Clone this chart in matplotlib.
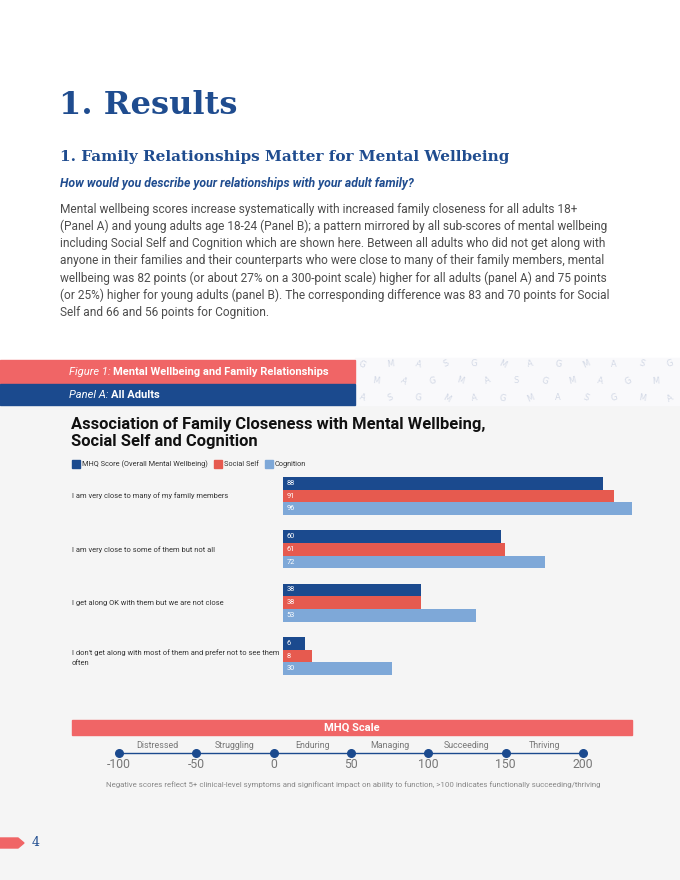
import matplotlib.pyplot as plt
from matplotlib.patches import Rectangle, Polygon
import numpy as np

# data
categories = [
    "I am very close to many of my family members",
    "I am very close to some of them but not all",
    "I get along OK with them but we are not close",
    "I don't get along with most of them and prefer not to see them\noften",
]
mhq_score = [88, 60, 38, 6]
social_self = [91, 61, 38, 8]
cognition = [96, 72, 53, 30]
series_names = ["MHQ Score (Overall Mental Wellbeing)", "Social Self", "Cognition"]

scale_ticks = [-100, -50, 0, 50, 100, 150, 200]
scale_bands = ["Distressed", "Struggling", "Enduring", "Managing", "Succeeding", "Thriving"]

body_lines = [
    "Mental wellbeing scores increase systematically with increased family closeness for all adults 18+",
    "(Panel A) and young adults age 18-24 (Panel B); a pattern mirrored by all sub-scores of mental wellbeing",
    "including Social Self and Cognition which are shown here. Between all adults who did not get along with",
    "anyone in their families and their counterparts who were close to many of their family members, mental",
    "wellbeing was 82 points (or about 27% on a 300-point scale) higher for all adults (panel A) and 75 points",
    "(or 25%) higher for young adults (panel B). The corresponding difference was 83 and 70 points for Social",
    "Self and 66 and 56 points for Cognition.",
]

DARK_BLUE = "#1b4a8e"
RED = "#e65a4f"
LIGHT_BLUE = "#7ea8d8"
BANNER_RED = "#f06566"
HEAD_BLUE = "#1f4c8f"
GREY_BG = "#f5f5f5"
colors = [DARK_BLUE, RED, LIGHT_BLUE]
SLAB = "DejaVu Serif"

W, H = 680, 880
fig = plt.figure(figsize=(W / 100, H / 100), dpi=100, facecolor="white")

# page overlay in pixel coordinates
page = fig.add_axes([0, 0, 1, 1])
page.set_xlim(0, W)
page.set_ylim(H, 0)
page.axis("off")

page.add_patch(Rectangle((0, 405), W, H - 405, color=GREY_BG, zorder=0))
page.add_patch(Rectangle((355, 358), W - 355, 47, color="#f9f9fb", zorder=0))

# faint letter pattern behind the banner
pattern_letters = ["G", "M", "A", "S", "G", "M", "A"]
k = 0
for row, yy in enumerate([364, 381, 398]):
    for xx in np.arange(362 + (row % 2) * 14, W, 28):
        page.text(xx, yy, pattern_letters[k % len(pattern_letters)], fontsize=6, color="#d3d9e6",
                  rotation=(k * 37) % 60 - 30, ha="center", va="center", zorder=1)
        k += 1

fig.canvas.draw()
renderer = fig.canvas.get_renderer()


def fit_width(txt, target):
    # shrink/grow font so the text spans the target width in pixels
    w = txt.get_window_extent(renderer).width
    txt.set_fontsize(txt.get_fontsize() * target / w)
    return txt.get_fontsize()


# headings
h1 = page.text(59, 105, "1. Results", fontsize=27, fontweight="bold", family=SLAB,
               color=HEAD_BLUE, va="center")
fit_width(h1, 178)
h2 = page.text(60, 157, "1. Family Relationships Matter for Mental Wellbeing", fontsize=13.2,
               fontweight="bold", family=SLAB, color=HEAD_BLUE, va="center")
fit_width(h2, 452)
q = page.text(60, 184, "How would you describe your relationships with your adult family?", fontsize=8,
              fontweight="bold", style="italic", family="Roboto", color=HEAD_BLUE, va="center")
fit_width(q, 356)

b0 = page.text(60, 209, body_lines[0], fontsize=9, family="Roboto", fontweight="normal",
               color="#4d4d4d", va="center")
body_size = fit_width(b0, 523)
for i, line in enumerate(body_lines[1:], start=1):
    page.text(60, 209 + i * 17.2, line, fontsize=body_size, family="Roboto", fontweight="normal",
              color="#4d4d4d", va="center")

# figure banner
page.add_patch(Rectangle((0, 360), 355, 23, color=BANNER_RED, zorder=2))
page.add_patch(Rectangle((0, 384), 355, 21, color=DARK_BLUE, zorder=2))
t = page.text(69, 372, "Figure 1: ", fontsize=8, style="italic", family="Roboto",
              color="white", va="center", zorder=3)
page.annotate("Mental Wellbeing and Family Relationships", xycoords=t, xy=(1, 0.5),
              va="center", fontsize=8, fontweight="bold", family="Roboto", color="white", zorder=3)
t = page.text(69, 395, "Panel A: ", fontsize=8, style="italic", family="Roboto",
              color="white", va="center", zorder=3)
page.annotate("All Adults", xycoords=t, xy=(1, 0.5), va="center", fontsize=8,
              fontweight="bold", family="Roboto", color="white", zorder=3)

# chart title and legend
title = page.text(71, 433, "Association of Family Closeness with Mental Wellbeing,\nSocial Self and Cognition",
                  fontsize=11.9, fontweight="bold", family="Roboto", color="#111111", va="center",
                  linespacing=1.1)
lx = 72
for name, c in zip(series_names, colors):
    page.add_patch(Rectangle((lx, 460), 8, 8, color=c))
    tt = page.text(lx + 10, 464, name, fontsize=5.3, family="Roboto", color="#333333", va="center")
    lx += 10 + tt.get_window_extent(renderer).width + 6

# bar chart
ax = fig.add_axes([283 / W, 1 - 686 / H, (646.5 - 283) / W, (686 - 466) / H])
ax.set_facecolor("none")
ax.set_xlim(0, 100)
ax.set_ylim(3.5625, -0.5625)
ax.axis("off")
bh = 0.238
y = np.arange(len(categories))
for j, (vals, c) in enumerate(zip([mhq_score, social_self, cognition], colors)):
    ypos = y + (j - 1) * bh
    ax.barh(ypos, vals, height=bh, color=c)
    for yy, v in zip(ypos, vals):
        ax.text(1, yy, str(v), fontsize=5.3, family="Roboto", color="white", va="center")

# category labels, placed in page pixels next to each group
for yy, lab in zip(y, categories):
    off = 1.5 if "\n" in lab else 0
    page.text(72, 496 + yy * 53.33 + off, lab, fontsize=5.45, family="Roboto", color="#333333",
              va="center", linespacing=1.9)

# MHQ scale
page.add_patch(Rectangle((72, 720), 560, 15, color=BANNER_RED))
page.text(352, 727.5, "MHQ Scale", fontsize=8, fontweight="bold", family="Roboto",
          color="white", ha="center", va="center")
sx = lambda v: 119 + (v + 100) * (583 - 119) / 300
page.plot([sx(scale_ticks[0]), sx(scale_ticks[-1])], [753, 753], color=DARK_BLUE, lw=1)
page.scatter([sx(v) for v in scale_ticks], [753] * len(scale_ticks), s=30, color=DARK_BLUE, zorder=3)
for v in scale_ticks:
    page.text(sx(v), 765, str(v), fontsize=8.8, family="Roboto", color="#777777",
              ha="center", va="center")
for a, b, lab in zip(scale_ticks[:-1], scale_ticks[1:], scale_bands):
    page.text((sx(a) + sx(b)) / 2, 746, lab, fontsize=6.4, family="Roboto", color="#777777",
              ha="center", va="center")
page.text(353, 785, "Negative scores reflect 5+ clinical-level symptoms and significant impact on ability "
          "to function, >100 indicates functionally succeeding/thriving", fontsize=5.65,
          family="Roboto", color="#888888", ha="center", va="center")

# page number
page.add_patch(Polygon([(0, 838), (18, 838), (24, 843), (18, 848), (0, 848)], color=BANNER_RED))
page.text(32, 843, "4", fontsize=9, family=SLAB, color=HEAD_BLUE, va="center")

fig.savefig("out.png", dpi=100, facecolor=fig.get_facecolor())
